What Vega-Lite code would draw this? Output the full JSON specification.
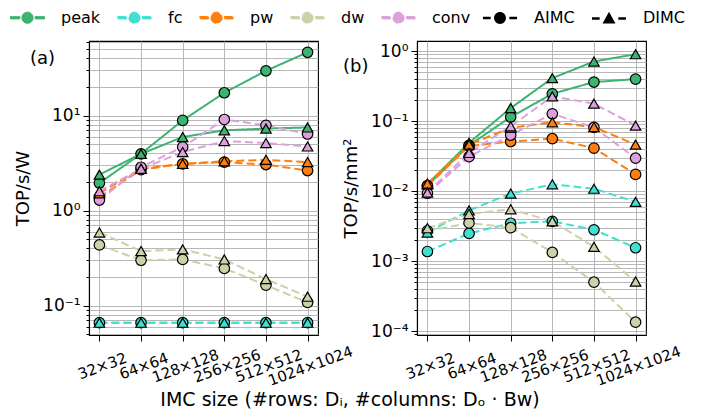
{
  "$schema": "https://vega.github.io/schema/vega-lite/v6.json",
  "padding": {"left": 10, "top": 0, "right": 5, "bottom": 4},
  "datasets": {
    "imc": [
      {"panel":"a","series":"peak","imc":"AIMC","size":"32×32","value":1.95},
      {"panel":"a","series":"peak","imc":"AIMC","size":"64×64","value":3.96},
      {"panel":"a","series":"peak","imc":"AIMC","size":"128×128","value":8.9},
      {"panel":"a","series":"peak","imc":"AIMC","size":"256×256","value":17.4},
      {"panel":"a","series":"peak","imc":"AIMC","size":"512×512","value":29.6},
      {"panel":"a","series":"peak","imc":"AIMC","size":"1024×1024","value":46.4},
      {"panel":"a","series":"peak","imc":"DIMC","size":"32×32","value":2.39},
      {"panel":"a","series":"peak","imc":"DIMC","size":"64×64","value":3.95},
      {"panel":"a","series":"peak","imc":"DIMC","size":"128×128","value":5.95},
      {"panel":"a","series":"peak","imc":"DIMC","size":"256×256","value":7.0},
      {"panel":"a","series":"peak","imc":"DIMC","size":"512×512","value":7.3},
      {"panel":"a","series":"peak","imc":"DIMC","size":"1024×1024","value":7.5},
      {"panel":"a","series":"fc","imc":"AIMC","size":"32×32","value":0.066},
      {"panel":"a","series":"fc","imc":"AIMC","size":"64×64","value":0.066},
      {"panel":"a","series":"fc","imc":"AIMC","size":"128×128","value":0.066},
      {"panel":"a","series":"fc","imc":"AIMC","size":"256×256","value":0.066},
      {"panel":"a","series":"fc","imc":"AIMC","size":"512×512","value":0.066},
      {"panel":"a","series":"fc","imc":"AIMC","size":"1024×1024","value":0.066},
      {"panel":"a","series":"fc","imc":"DIMC","size":"32×32","value":0.066},
      {"panel":"a","series":"fc","imc":"DIMC","size":"64×64","value":0.066},
      {"panel":"a","series":"fc","imc":"DIMC","size":"128×128","value":0.066},
      {"panel":"a","series":"fc","imc":"DIMC","size":"256×256","value":0.066},
      {"panel":"a","series":"fc","imc":"DIMC","size":"512×512","value":0.066},
      {"panel":"a","series":"fc","imc":"DIMC","size":"1024×1024","value":0.066},
      {"panel":"a","series":"pw","imc":"AIMC","size":"32×32","value":1.38},
      {"panel":"a","series":"pw","imc":"AIMC","size":"64×64","value":2.7},
      {"panel":"a","series":"pw","imc":"AIMC","size":"128×128","value":3.1},
      {"panel":"a","series":"pw","imc":"AIMC","size":"256×256","value":3.24},
      {"panel":"a","series":"pw","imc":"AIMC","size":"512×512","value":3.05},
      {"panel":"a","series":"pw","imc":"AIMC","size":"1024×1024","value":2.64},
      {"panel":"a","series":"pw","imc":"DIMC","size":"32×32","value":1.52},
      {"panel":"a","series":"pw","imc":"DIMC","size":"64×64","value":2.75},
      {"panel":"a","series":"pw","imc":"DIMC","size":"128×128","value":3.1},
      {"panel":"a","series":"pw","imc":"DIMC","size":"256×256","value":3.3},
      {"panel":"a","series":"pw","imc":"DIMC","size":"512×512","value":3.42},
      {"panel":"a","series":"pw","imc":"DIMC","size":"1024×1024","value":3.24},
      {"panel":"a","series":"dw","imc":"AIMC","size":"32×32","value":0.435},
      {"panel":"a","series":"dw","imc":"AIMC","size":"64×64","value":0.30},
      {"panel":"a","series":"dw","imc":"AIMC","size":"128×128","value":0.306},
      {"panel":"a","series":"dw","imc":"AIMC","size":"256×256","value":0.246},
      {"panel":"a","series":"dw","imc":"AIMC","size":"512×512","value":0.164},
      {"panel":"a","series":"dw","imc":"AIMC","size":"1024×1024","value":0.108},
      {"panel":"a","series":"dw","imc":"DIMC","size":"32×32","value":0.588},
      {"panel":"a","series":"dw","imc":"DIMC","size":"64×64","value":0.375},
      {"panel":"a","series":"dw","imc":"DIMC","size":"128×128","value":0.39},
      {"panel":"a","series":"dw","imc":"DIMC","size":"256×256","value":0.306},
      {"panel":"a","series":"dw","imc":"DIMC","size":"512×512","value":0.19},
      {"panel":"a","series":"dw","imc":"DIMC","size":"1024×1024","value":0.124},
      {"panel":"a","series":"conv","imc":"AIMC","size":"32×32","value":1.29},
      {"panel":"a","series":"conv","imc":"AIMC","size":"64×64","value":2.86},
      {"panel":"a","series":"conv","imc":"AIMC","size":"128×128","value":4.67},
      {"panel":"a","series":"conv","imc":"AIMC","size":"256×256","value":9.1},
      {"panel":"a","series":"conv","imc":"AIMC","size":"512×512","value":7.9},
      {"panel":"a","series":"conv","imc":"AIMC","size":"1024×1024","value":6.4},
      {"panel":"a","series":"conv","imc":"DIMC","size":"32×32","value":1.6},
      {"panel":"a","series":"conv","imc":"DIMC","size":"64×64","value":2.75},
      {"panel":"a","series":"conv","imc":"DIMC","size":"128×128","value":4.13},
      {"panel":"a","series":"conv","imc":"DIMC","size":"256×256","value":5.4},
      {"panel":"a","series":"conv","imc":"DIMC","size":"512×512","value":5.14},
      {"panel":"a","series":"conv","imc":"DIMC","size":"1024×1024","value":4.73},
      {"panel":"b","series":"peak","imc":"AIMC","size":"32×32","value":0.012},
      {"panel":"b","series":"peak","imc":"AIMC","size":"64×64","value":0.045},
      {"panel":"b","series":"peak","imc":"AIMC","size":"128×128","value":0.114},
      {"panel":"b","series":"peak","imc":"AIMC","size":"256×256","value":0.245},
      {"panel":"b","series":"peak","imc":"AIMC","size":"512×512","value":0.36},
      {"panel":"b","series":"peak","imc":"AIMC","size":"1024×1024","value":0.397},
      {"panel":"b","series":"peak","imc":"DIMC","size":"32×32","value":0.0125},
      {"panel":"b","series":"peak","imc":"DIMC","size":"64×64","value":0.0488},
      {"panel":"b","series":"peak","imc":"DIMC","size":"128×128","value":0.153},
      {"panel":"b","series":"peak","imc":"DIMC","size":"256×256","value":0.41},
      {"panel":"b","series":"peak","imc":"DIMC","size":"512×512","value":0.708},
      {"panel":"b","series":"peak","imc":"DIMC","size":"1024×1024","value":0.90},
      {"panel":"b","series":"fc","imc":"AIMC","size":"32×32","value":0.00137},
      {"panel":"b","series":"fc","imc":"AIMC","size":"64×64","value":0.00248},
      {"panel":"b","series":"fc","imc":"AIMC","size":"128×128","value":0.00347},
      {"panel":"b","series":"fc","imc":"AIMC","size":"256×256","value":0.0037},
      {"panel":"b","series":"fc","imc":"AIMC","size":"512×512","value":0.0028},
      {"panel":"b","series":"fc","imc":"AIMC","size":"1024×1024","value":0.00155},
      {"panel":"b","series":"fc","imc":"DIMC","size":"32×32","value":0.00256},
      {"panel":"b","series":"fc","imc":"DIMC","size":"64×64","value":0.0053},
      {"panel":"b","series":"fc","imc":"DIMC","size":"128×128","value":0.0092},
      {"panel":"b","series":"fc","imc":"DIMC","size":"256×256","value":0.0125},
      {"panel":"b","series":"fc","imc":"DIMC","size":"512×512","value":0.0108},
      {"panel":"b","series":"fc","imc":"DIMC","size":"1024×1024","value":0.007},
      {"panel":"b","series":"pw","imc":"AIMC","size":"32×32","value":0.0118},
      {"panel":"b","series":"pw","imc":"AIMC","size":"64×64","value":0.044},
      {"panel":"b","series":"pw","imc":"AIMC","size":"128×128","value":0.051},
      {"panel":"b","series":"pw","imc":"AIMC","size":"256×256","value":0.056},
      {"panel":"b","series":"pw","imc":"AIMC","size":"512×512","value":0.041},
      {"panel":"b","series":"pw","imc":"AIMC","size":"1024×1024","value":0.0173},
      {"panel":"b","series":"pw","imc":"DIMC","size":"32×32","value":0.0128},
      {"panel":"b","series":"pw","imc":"DIMC","size":"64×64","value":0.046},
      {"panel":"b","series":"pw","imc":"DIMC","size":"128×128","value":0.08},
      {"panel":"b","series":"pw","imc":"DIMC","size":"256×256","value":0.096},
      {"panel":"b","series":"pw","imc":"DIMC","size":"512×512","value":0.082},
      {"panel":"b","series":"pw","imc":"DIMC","size":"1024×1024","value":0.046},
      {"panel":"b","series":"dw","imc":"AIMC","size":"32×32","value":0.0027},
      {"panel":"b","series":"dw","imc":"AIMC","size":"64×64","value":0.0035},
      {"panel":"b","series":"dw","imc":"AIMC","size":"128×128","value":0.003},
      {"panel":"b","series":"dw","imc":"AIMC","size":"256×256","value":0.00133},
      {"panel":"b","series":"dw","imc":"AIMC","size":"512×512","value":0.0005},
      {"panel":"b","series":"dw","imc":"AIMC","size":"1024×1024","value":0.000134},
      {"panel":"b","series":"dw","imc":"DIMC","size":"32×32","value":0.00295},
      {"panel":"b","series":"dw","imc":"DIMC","size":"64×64","value":0.0047},
      {"panel":"b","series":"dw","imc":"DIMC","size":"128×128","value":0.0055},
      {"panel":"b","series":"dw","imc":"DIMC","size":"256×256","value":0.0037},
      {"panel":"b","series":"dw","imc":"DIMC","size":"512×512","value":0.0016},
      {"panel":"b","series":"dw","imc":"DIMC","size":"1024×1024","value":0.00051},
      {"panel":"b","series":"conv","imc":"AIMC","size":"32×32","value":0.0093},
      {"panel":"b","series":"conv","imc":"AIMC","size":"64×64","value":0.031},
      {"panel":"b","series":"conv","imc":"AIMC","size":"128×128","value":0.063},
      {"panel":"b","series":"conv","imc":"AIMC","size":"256×256","value":0.127},
      {"panel":"b","series":"conv","imc":"AIMC","size":"512×512","value":0.081},
      {"panel":"b","series":"conv","imc":"AIMC","size":"1024×1024","value":0.0295},
      {"panel":"b","series":"conv","imc":"DIMC","size":"32×32","value":0.0095},
      {"panel":"b","series":"conv","imc":"DIMC","size":"64×64","value":0.035},
      {"panel":"b","series":"conv","imc":"DIMC","size":"128×128","value":0.084},
      {"panel":"b","series":"conv","imc":"DIMC","size":"256×256","value":0.225},
      {"panel":"b","series":"conv","imc":"DIMC","size":"512×512","value":0.177},
      {"panel":"b","series":"conv","imc":"DIMC","size":"1024×1024","value":0.086}
    ]
  },
  "data": {"name": "imc"},
  "title": {"text": "IMC size (#rows: Dᵢ, #columns: Dₒ · Bw)", "orient": "bottom", "anchor": "middle", "fontSize": 19, "fontWeight": "normal", "offset": 2, "dx": 2},
  "bounds": "flush",
  "spacing": 99,
  "hconcat": [
    {
      "width": 229,
      "height": 294,
      "title": {"text": "(a)", "anchor": "start", "frame": "group", "offset": 0, "dx": -59, "dy": 53, "fontSize": 18, "fontWeight": "normal", "baseline": "bottom"},
      "transform": [{"filter": "datum.panel == 'a'"}],
      "encoding": {
        "x": {"field": "size", "type": "ordinal", "sort": ["32×32","64×64","128×128","256×256","512×512","1024×1024"], "scale": {"type": "point", "padding": 0.25},
              "axis": {"title": null, "labelAngle": -20, "labelAlign": "center", "labelBaseline": "top", "labelPadding": 18, "tickSize": 6, "grid": true, "labelFontSize": 15}},
        "y": {"field": "value", "type": "quantitative", "scale": {"type": "log", "domain": [0.049, 61], "nice": false},
              "axis": {"title": "TOP/s/W", "titlePadding": 10, "labelFontSize": 17, "labelOverlap": false, "labelPadding": 3,
                       "values": [0.05,0.06,0.07,0.08,0.09,0.1,0.2,0.3,0.4,0.5,0.6,0.7,0.8,0.9,1,2,3,4,5,6,7,8,9,10,20,30,40,50,60],
                       "labelExpr": "abs(log(datum.value)/LN10 - round(log(datum.value)/LN10)) > 0.001 ? '' : round(log(datum.value)/LN10) == 1 ? '10¹' : round(log(datum.value)/LN10) == 0 ? '10⁰' : round(log(datum.value)/LN10) == -1 ? '10⁻¹' : ''",
                       "tickSize": {"condition": {"test": "abs(log(datum.value)/LN10 - round(log(datum.value)/LN10)) < 0.001", "value": 6}, "value": 3}}},
        "color": {"field": "series", "type": "nominal", "scale": {"domain": ["peak","fc","pw","dw","conv"], "range": ["#3cb371","#40e0d0","#ff7f0e","#cdd1a7","#dda0dd"]},
                  "legend": {"title": null, "orient": "none", "legendX": -79, "legendY": -41, "direction": "horizontal", "symbolType": "M-1,-0.07H-0.45V0.07H-1Z M0.45,-0.07H1V0.07H0.45Z M-0.33,0A0.33,0.33 0 1,0 0.33,0A0.33,0.33 0 1,0 -0.33,0Z",
                             "encode": {"symbols": {"update": {"fill": {"scale": "color", "field": "value"}, "stroke": {"scale": "color", "field": "value"}, "strokeWidth": {"value": 1}, "opacity": {"value": 1}}}}}}
      },
      "layer": [
        {"mark": {"type": "line", "strokeWidth": 2}, "encoding": {"detail": {"field": "imc"}, "strokeDash": {"field": "series", "type": "nominal", "scale": {"domain": ["peak","fc","pw","dw","conv"], "range": [[1,0],[8,4],[8,4],[8,4],[8,4]]}, "legend": null}}},
        {"transform": [{"filter": "datum.imc == 'AIMC'"}], "mark": {"type": "point", "shape": "circle", "filled": true, "stroke": "black", "strokeWidth": 1.2, "size": 110, "opacity": 1}},
        {"transform": [{"filter": "datum.imc == 'DIMC'"}], "mark": {"type": "point", "shape": "triangle-up", "filled": true, "stroke": "black", "strokeWidth": 1.2, "size": 110, "opacity": 1}},
        {"transform": [{"filter": "false"}], "mark": {"type": "point", "filled": true, "color": "black", "opacity": 1},
         "encoding": {"color": {"value": "black"}, "shape": {"field": "imc", "type": "nominal",
           "scale": {"domain": ["AIMC","DIMC"], "range": ["M-1,-0.07H-0.55V0.07H-1Z M0.55,-0.07H1V0.07H0.55Z M-0.35,0A0.35,0.35 0 1,0 0.35,0A0.35,0.35 0 1,0 -0.35,0Z", "M-1,-0.07H-0.55V0.07H-1Z M0.55,-0.07H1V0.07H0.55Z M0,-0.4L0.38,0.3H-0.38Z"]},
           "legend": {"title": null, "orient": "none", "legendX": 393, "legendY": -41, "direction": "horizontal"}}}}
      ]
    },
    {
      "width": 229,
      "height": 294,
      "title": {"text": "(b)", "anchor": "start", "frame": "group", "offset": 0, "dx": -74, "dy": 53, "fontSize": 18, "fontWeight": "normal", "baseline": "bottom"},
      "transform": [{"filter": "datum.panel == 'b'"}],
      "encoding": {
        "x": {"field": "size", "type": "ordinal", "sort": ["32×32","64×64","128×128","256×256","512×512","1024×1024"], "scale": {"type": "point", "padding": 0.25},
              "axis": {"title": null, "labelAngle": -20, "labelAlign": "center", "labelBaseline": "top", "labelPadding": 18, "tickSize": 6, "grid": true, "labelFontSize": 15}},
        "y": {"field": "value", "type": "quantitative", "scale": {"type": "log", "domain": [0.000088, 1.39], "nice": false},
              "axis": {"title": "TOP/s/mm²", "titlePadding": 10, "labelFontSize": 17, "labelOverlap": false, "labelPadding": 3,
                       "values": [0.00009,0.0001,0.0002,0.0003,0.0004,0.0005,0.0006,0.0007,0.0008,0.0009,0.001,0.002,0.003,0.004,0.005,0.006,0.007,0.008,0.009,0.01,0.02,0.03,0.04,0.05,0.06,0.07,0.08,0.09,0.1,0.2,0.3,0.4,0.5,0.6,0.7,0.8,0.9,1],
                       "labelExpr": "abs(log(datum.value)/LN10 - round(log(datum.value)/LN10)) > 0.001 ? '' : round(log(datum.value)/LN10) == 0 ? '10⁰' : round(log(datum.value)/LN10) == -1 ? '10⁻¹' : round(log(datum.value)/LN10) == -2 ? '10⁻²' : round(log(datum.value)/LN10) == -3 ? '10⁻³' : round(log(datum.value)/LN10) == -4 ? '10⁻⁴' : ''",
                       "tickSize": {"condition": {"test": "abs(log(datum.value)/LN10 - round(log(datum.value)/LN10)) < 0.001", "value": 6}, "value": 3}}},
        "color": {"field": "series", "type": "nominal", "scale": {"domain": ["peak","fc","pw","dw","conv"], "range": ["#3cb371","#40e0d0","#ff7f0e","#cdd1a7","#dda0dd"]},
                  "legend": {"title": null, "orient": "none", "legendX": -79, "legendY": -41, "direction": "horizontal", "symbolType": "M-1,-0.07H-0.45V0.07H-1Z M0.45,-0.07H1V0.07H0.45Z M-0.33,0A0.33,0.33 0 1,0 0.33,0A0.33,0.33 0 1,0 -0.33,0Z",
                             "encode": {"symbols": {"update": {"fill": {"scale": "color", "field": "value"}, "stroke": {"scale": "color", "field": "value"}, "strokeWidth": {"value": 1}, "opacity": {"value": 1}}}}}}
      },
      "layer": [
        {"mark": {"type": "line", "strokeWidth": 2}, "encoding": {"detail": {"field": "imc"}, "strokeDash": {"field": "series", "type": "nominal", "scale": {"domain": ["peak","fc","pw","dw","conv"], "range": [[1,0],[8,4],[8,4],[8,4],[8,4]]}, "legend": null}}},
        {"transform": [{"filter": "datum.imc == 'AIMC'"}], "mark": {"type": "point", "shape": "circle", "filled": true, "stroke": "black", "strokeWidth": 1.2, "size": 110, "opacity": 1}},
        {"transform": [{"filter": "datum.imc == 'DIMC'"}], "mark": {"type": "point", "shape": "triangle-up", "filled": true, "stroke": "black", "strokeWidth": 1.2, "size": 110, "opacity": 1}},
        {"transform": [{"filter": "false"}], "mark": {"type": "point", "filled": true, "color": "black", "opacity": 1},
         "encoding": {"color": {"value": "black"}, "shape": {"field": "imc", "type": "nominal",
           "scale": {"domain": ["AIMC","DIMC"], "range": ["M-1,-0.07H-0.55V0.07H-1Z M0.55,-0.07H1V0.07H0.55Z M-0.35,0A0.35,0.35 0 1,0 0.35,0A0.35,0.35 0 1,0 -0.35,0Z", "M-1,-0.07H-0.55V0.07H-1Z M0.55,-0.07H1V0.07H0.55Z M0,-0.4L0.38,0.3H-0.38Z"]},
           "legend": {"title": null, "orient": "none", "legendX": 393, "legendY": -41, "direction": "horizontal"}}}}
      ]
    }
  ],
  "config": {
    "font": "DejaVu Sans",
    "view": {"stroke": "black", "strokeWidth": 1.1},
    "axis": {"domainColor": "black", "domainWidth": 1.1, "tickColor": "black", "labelColor": "black", "titleColor": "black", "gridColor": "#b0b0b0", "gridWidth": 0.9, "titleFontSize": 18, "titleFontWeight": "normal"},
    "legend": {"labelFontSize": 16, "symbolSize": 1156, "labelOffset": 16, "columnPadding": 14, "padding": 0}
  }
}
